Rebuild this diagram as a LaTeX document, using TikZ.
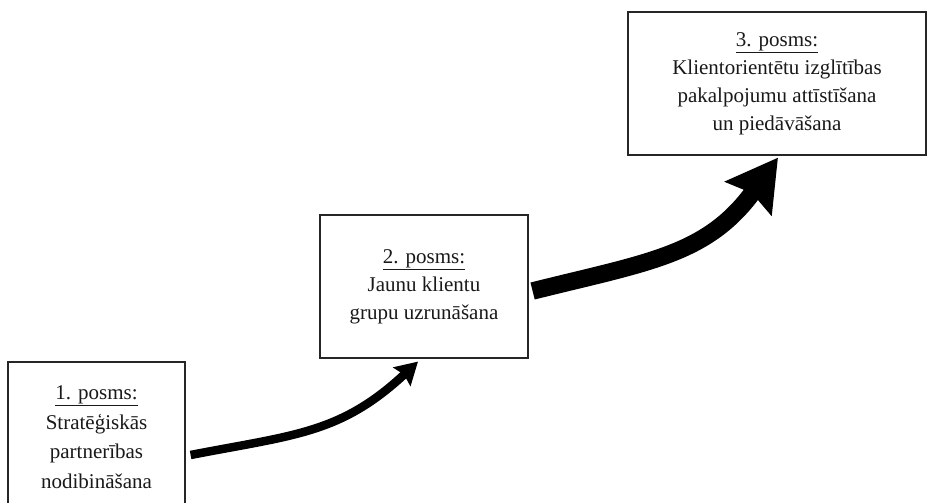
\documentclass[tikz,border=0pt]{standalone}
\usepackage{fontspec}
\setmainfont{Liberation Serif}
\usetikzlibrary{arrows.meta,calc}
\begin{document}
\begin{tikzpicture}[x=1pt,y=1pt,
  stage/.style={draw=black!85, line width=1.2pt, fill=white, inner sep=0pt,
    align=center, text=black!90, font=\fontsize{21}{28}\selectfont},
  flow/.style={draw=black, line cap=butt}
]
\useasboundingbox (0,0) rectangle (927,503);
\clip (0,0) rectangle (927,503);

% the three stages
\node[stage, minimum width=177pt, minimum height=150pt,
      font=\fontsize{21}{29.5}\selectfont] (b1) at (96.5,66)
  {\underline{1. posms:}\\Stratēģiskās\\partnerības\\nodibināšana};
\node[stage, minimum width=208pt, minimum height=143pt] (b2) at (424,216.5)
  {\underline{2. posms:}\\Jaunu klientu\\grupu uzrunāšana};
\node[stage, minimum width=298pt, minimum height=143pt] (b3) at (777,419.5)
  {\underline{3. posms:}\\Klientorientētu izglītības\\pakalpojumu attīstīšana\\un piedāvāšana};

% arrow ends
\coordinate (a1s) at ($(b1.east)+(5,-18)$);
\coordinate (a1e) at ($(b2.south)+(-6,-3)$);
\coordinate (a2s) at ($(b2.east)+(4,-4.5)$);
\coordinate (a2e) at ($(b3.south)+(1,-2)$);

% growing arrows between the stages
\draw[flow, line width=8.5pt, -{Stealth[length=22pt,width=25pt,inset=3pt]}]
  (a1s) to[out=11,in=223,looseness=1.1] (a1e);
\draw[flow, line width=17.5pt, -{Stealth[length=50pt,width=56pt,inset=6pt]}]
  (a2s) to[out=14,in=234,looseness=1.1] (a2e);
\end{tikzpicture}
\end{document}
